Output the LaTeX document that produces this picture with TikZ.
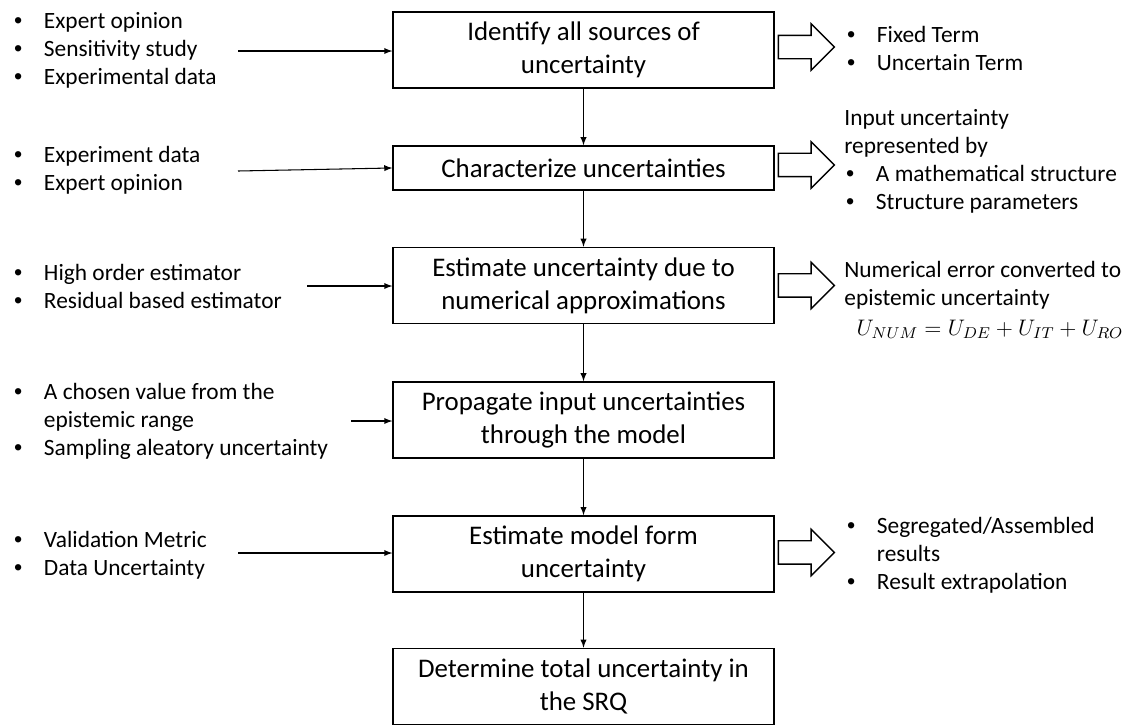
\documentclass[tikz,border=0pt]{standalone}
\usepackage{fix-cm}
\usepackage{fontspec}
\setmainfont{Carlito}
\newfontfamily\bulfont{Liberation Sans}
\usetikzlibrary{arrows, shapes, positioning}

\newcommand{\boxfont}{\fontsize{15.3}{18.7}\selectfont}
\newcommand{\sidefont}{\fontsize{13.3}{15.9}\selectfont}
\newcommand{\bul}{\makebox[18pt][l]{\hspace*{1pt}{\bulfont\textbullet}}}

\tikzset{
  stage/.style={draw, rectangle, line width=0.8pt, minimum width=7.62cm,
    minimum height=1.52cm, inner sep=0, align=center, font=\boxfont},
  side/.style={anchor=west, inner sep=0, align=left, font=\sidefont},
  flow/.style={-latex, line width=0.6pt},
  hollow/.style={draw, single arrow, line width=0.8pt, anchor=tail,
    inner xsep=0, inner ysep=0.22cm, minimum height=1.12cm,
    single arrow head extend=0.23cm, single arrow tip angle=90}
}

\begin{document}
\begin{tikzpicture}[x=0.02cm, y=-0.02cm]
    \useasboundingbox (0,0) rectangle (1132,725);

    % stages %
      \node[stage] (b1) at (583.5,50) {Identify all sources of\\uncertainty};
      \node[stage, below of = b1, node distance=2.36cm, minimum height=0.88cm] (b2) {Characterize uncertainties};
      \node[stage, below of = b2, node distance=2.35cm] (b3) {Estimate uncertainty due to\\numerical approximations};
      \node[stage, below of = b3, node distance=2.69cm] (b4) {Propagate input uncertainties\\through the model};
      \node[stage, below of = b4, node distance=2.68cm] (b5) {Estimate model form\\uncertainty};
      \node[stage, below of = b5, node distance=2.65cm] (b6) {Determine total uncertainty in\\the SRQ};

    % inputs %
      \node[side] (in1) at (12,50.5) {\bul Expert opinion\\\bul Sensitivity study\\\bul Experimental data};
      \node[side] (in2) at (12,170.5) {\bul Experiment data\\\bul Expert opinion};
      \node[side] (in3) at (12,286.5) {\bul High order estimator\\\bul Residual based estimator};
      \node[side] (in4) at (12,421.5) {\bul A chosen value from the\\\hspace*{18pt}epistemic range\\\bul Sampling aleatory uncertainty};
      \node[side] (in5) at (12,555) {\bul Validation Metric\\\bul Data Uncertainty};

      \coordinate (s1) at (238,51);
      \coordinate (s2) at (238,171);
      \coordinate (s3) at (307,286);
      \coordinate (s4) at (351,421);
      \coordinate (s5) at (238,553);

    % outputs %
      \node[hollow] (h1) at ([xshift=0.06cm, yshift=0.06cm]b1.east) {};
      \node[hollow] (h2) at ([xshift=0.06cm, yshift=0.06cm]b2.east) {};
      \node[hollow] (h3) at ([xshift=0.06cm]b3.east) {};
      \node[hollow] (h5) at ([xshift=0.06cm, yshift=0.03cm]b5.east) {};

      \node[side] (out1) at (845,48) {\bul Fixed Term\\\bul Uncertain Term};
      \node[side] (out2) at (844,161.5) {Input uncertainty\\represented by\\\bul A mathematical structure\\\bul Structure parameters};
      \node[side] (out3) at (844,300) {Numerical error converted to\\epistemic uncertainty\\[1pt]\hspace*{7pt}{\fontsize{12.8}{15}\selectfont$U_{NUM}=U_{DE}+U_{IT}+U_{RO}$}};
      \node[side] (out5) at (845,555) {\bul Segregated/Assembled\\\hspace*{18pt}results\\\bul Result extrapolation};

    % edges %
      \draw[flow] (b1) -- (b2);
      \draw[flow] (b2) -- (b3);
      \draw[flow] (b3) -- (b4);
      \draw[flow] (b4) -- (b5);
      \draw[flow] (b5) -- (b6);

      \draw[flow] (s1) -- (s1 -| b1.west);
      \draw[flow] (s2) -- (b2.west);
      \draw[flow] (s3) -- (s3 -| b3.west);
      \draw[flow] (s4) -- (s4 -| b4.west);
      \draw[flow] (s5) -- (s5 -| b5.west);
\end{tikzpicture}
\end{document}
